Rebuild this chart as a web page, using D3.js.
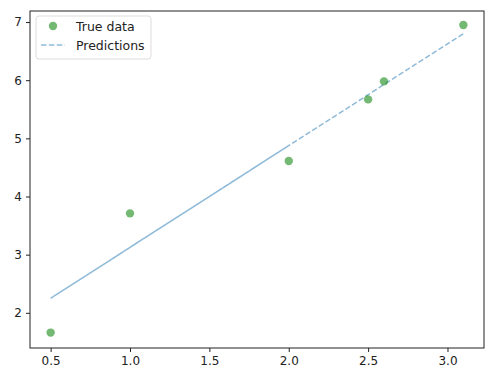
<!DOCTYPE html>
<html>
<head>
    <script src="https://d3js.org/d3.v7.min.js"></script>
    <style>
        body { margin: 0; background: #fff; }
        text { font-family: "DejaVu Sans", sans-serif; }
    </style>
</head>
<body>
    <div id="chart"></div>
    <script>
        // data
        const xTrue = [0.5, 1.0, 2.0, 2.5, 2.6, 3.1];
        const yTrue = [1.66, 3.71, 4.61, 5.67, 5.98, 6.95];
        // predictions in the original (unsorted) order so the line retraces itself
        const xPred = [1.0, 2.0, 0.5, 2.5, 2.6, 3.1];
        const yPred = [3.125, 4.875, 2.25, 5.75, 5.925, 6.8];
        const xTicks = [0.5, 1.0, 1.5, 2.0, 2.5, 3.0];
        const yTicks = [2, 3, 4, 5, 6, 7];
        const legendLabels = ["True data", "Predictions"];

        const width = 500, height = 385;
        const margin = {top: 11, right: 16, bottom: 37, left: 30};

        const svg = d3.select("#chart").append("svg")
            .attr("width", width)
            .attr("height", height);

        const x = d3.scaleLinear().domain([0.37, 3.23])
            .range([margin.left, width - margin.right]);
        const y = d3.scaleLinear().domain([1.395, 7.19])
            .range([height - margin.bottom, margin.top]);

        // prediction line (dashed, C0 with alpha)
        const line = d3.line().x(d => x(d[0])).y(d => y(d[1]));
        svg.append("path")
            .datum(d3.zip(xPred, yPred))
            .attr("d", line)
            .attr("fill", "none")
            .attr("stroke", "#1f77b4")
            .attr("stroke-opacity", 0.5)
            .attr("stroke-width", 1.5)
            .attr("stroke-dasharray", "5.5,2.4");

        // true data points
        svg.selectAll(".pt")
            .data(d3.zip(xTrue, yTrue))
            .enter().append("circle")
            .attr("class", "pt")
            .attr("cx", d => x(d[0]))
            .attr("cy", d => y(d[1]))
            .attr("r", 4.2)
            .attr("fill", "#008000")
            .attr("fill-opacity", 0.55);

        // axes
        const xAxis = d3.axisBottom(x).tickValues(xTicks).tickFormat(d3.format(".1f"))
            .tickSizeOuter(0).tickSize(4).tickPadding(4);
        const yAxis = d3.axisLeft(y).tickValues(yTicks).tickFormat(d3.format("d"))
            .tickSizeOuter(0).tickSize(4).tickPadding(4);

        const gx = svg.append("g")
            .attr("transform", `translate(0,${height - margin.bottom})`)
            .call(xAxis);
        const gy = svg.append("g")
            .attr("transform", `translate(${margin.left},0)`)
            .call(yAxis);
        [gx, gy].forEach(g => {
            g.select(".domain").remove();
            g.selectAll("text").attr("font-size", 12).attr("fill", "#222")
                .style("font-family", "DejaVu Sans");
            g.selectAll("line").attr("stroke", "#222");
        });

        // frame
        svg.append("rect")
            .attr("x", margin.left)
            .attr("y", margin.top)
            .attr("width", width - margin.left - margin.right)
            .attr("height", height - margin.top - margin.bottom)
            .attr("fill", "none")
            .attr("stroke", "#222")
            .attr("stroke-width", 1);

        // legend
        const lg = svg.append("g").attr("transform", "translate(36,16)");
        lg.append("rect")
            .attr("width", 115).attr("height", 43)
            .attr("rx", 3)
            .attr("fill", "#fff").attr("fill-opacity", 0.8)
            .attr("stroke", "#ddd");
        lg.append("circle")
            .attr("cx", 17).attr("cy", 10)
            .attr("r", 4.2)
            .attr("fill", "#008000").attr("fill-opacity", 0.55);
        lg.append("line")
            .attr("x1", 5).attr("x2", 29)
            .attr("y1", 29).attr("y2", 29)
            .attr("stroke", "#1f77b4").attr("stroke-opacity", 0.5)
            .attr("stroke-width", 1.5)
            .attr("stroke-dasharray", "5.5,2.4");
        lg.selectAll(".lbl")
            .data(legendLabels)
            .enter().append("text")
            .attr("x", 40)
            .attr("y", (d, i) => 14.5 + i * 19)
            .attr("font-size", 12.5)
            .attr("fill", "#222")
            .text(d => d);
    </script>
</body>
</html>
